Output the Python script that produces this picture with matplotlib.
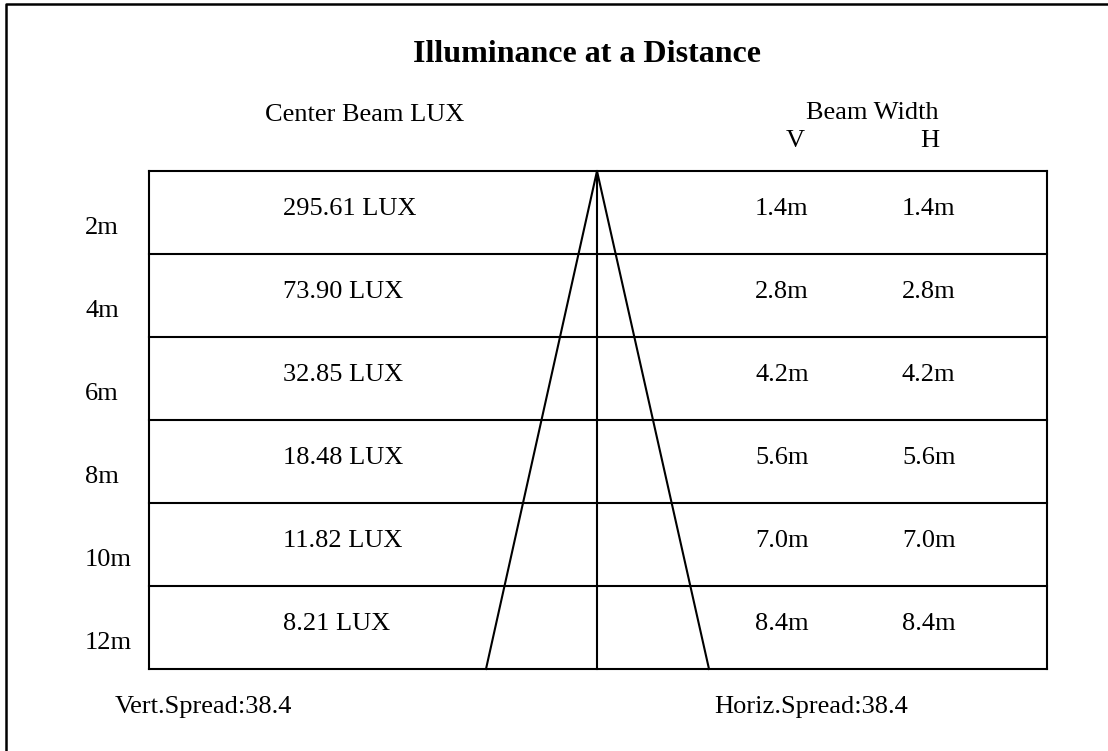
import matplotlib
matplotlib.use("Agg")
import matplotlib.pyplot as plt

# Data
distances = ["2m", "4m", "6m", "8m", "10m", "12m"]
center_lux = ["295.61 LUX", "73.90 LUX", "32.85 LUX", "18.48 LUX", "11.82 LUX", "8.21 LUX"]
beam_v = ["1.4m", "2.8m", "4.2m", "5.6m", "7.0m", "8.4m"]
beam_h = ["1.4m", "2.8m", "4.2m", "5.6m", "7.0m", "8.4m"]
title = "Illuminance at a Distance"
vert_spread = "Vert.Spread:38.4"
horiz_spread = "Horiz.Spread:38.4"

W, H = 1108, 751
fig = plt.figure(figsize=(W / 100, H / 100), dpi=100)
ax = fig.add_axes([0, 0, 1, 1])
ax.set_xlim(0, W)
ax.set_ylim(H, 0)
ax.axis("off")

font = "Liberation Serif"
lw = 1.5
fs = 19

# outer border (right/bottom off-image)
ax.plot([5.5, 5.5, W + 10], [H + 10, 3.5, 3.5], color="black", lw=1.8, solid_capstyle="butt")

# title and headers
ax.text(587, 62, title, ha="center", va="baseline", fontsize=23, fontweight="bold", family=font)
ax.text(265, 121, "Center Beam LUX", ha="left", va="baseline", fontsize=fs, family=font)
ax.text(939, 119, "Beam Width", ha="right", va="baseline", fontsize=fs, family=font)
ax.text(795, 147, "V", ha="center", va="baseline", fontsize=fs, family=font)
ax.text(930, 147, "H", ha="center", va="baseline", fontsize=fs, family=font)

# table
left, right, top, bottom = 149, 1047, 171, 669
n = len(distances)
rh = (bottom - top) / n
for i in range(n + 1):
    y = top + i * rh
    ax.plot([left, right], [y, y], color="black", lw=lw, solid_capstyle="projecting")
ax.plot([left, left], [top, bottom], color="black", lw=lw)
ax.plot([right, right], [top, bottom], color="black", lw=lw)

# beam triangle
cx = 597
ax.plot([cx, cx], [top, bottom], color="black", lw=lw)
ax.plot([486, cx, 709], [bottom, top, bottom], color="black", lw=lw)

for i in range(n):
    y0 = top + i * rh
    ax.text(85, y0 + 63, distances[i], ha="left", va="baseline", fontsize=fs, family=font)
    ax.text(283, y0 + 44, center_lux[i], ha="left", va="baseline", fontsize=fs, family=font)
    ax.text(755, y0 + 44, beam_v[i], ha="left", va="baseline", fontsize=fs, family=font)
    ax.text(902, y0 + 44, beam_h[i], ha="left", va="baseline", fontsize=fs, family=font)

ax.text(115, 713, vert_spread, ha="left", va="baseline", fontsize=fs, family=font)
ax.text(714, 713, horiz_spread, ha="left", va="baseline", fontsize=fs, family=font)

fig.savefig("out.png", dpi=100, facecolor="white")
